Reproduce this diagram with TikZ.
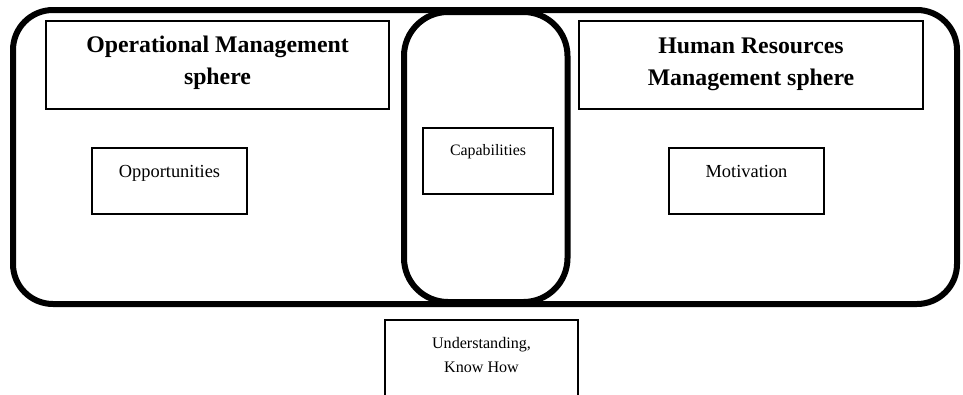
\documentclass[tikz,border=0pt]{standalone}
\usepackage{fontspec}
\setmainfont{Liberation Serif}
\begin{document}
\begin{tikzpicture}[x=1pt,y=-1pt,
  sphere/.style={draw, line width=6pt, rounded corners=40pt, inner sep=0pt},
  oval/.style={draw, line width=6pt, rounded corners=44pt, inner sep=0pt},
  box/.style={draw, line width=1.4pt, inner sep=0pt},
  title/.style={font=\fontsize{23.8}{32}\selectfont\bfseries, align=center, inner sep=0pt},
  lbl/.style={font=\fontsize{18.4}{22}\selectfont, inner sep=0pt},
  smalllbl/.style={font=\fontsize{16.1}{24}\selectfont, align=center, inner sep=0pt}]
\useasboundingbox (0,0) rectangle (963,394);
% outer sphere and capabilities oval
\node[sphere, minimum width=944pt, minimum height=294pt] (outer) at (485,157) {};
\node[oval, minimum width=163.5pt, minimum height=290pt] (capoval) at (485.75,157) {};
% boxes
\node[box, minimum width=343pt, minimum height=88pt] (opbox) at (217.5,65) {};
\node[box, minimum width=344pt, minimum height=88pt] (hrbox) at (751,65) {};
\node[box, minimum width=155pt, minimum height=66pt] (oppbox) at (169.5,181) {};
\node[box, minimum width=155pt, minimum height=66pt] (motbox) at (746.5,181) {};
\node[box, minimum width=130pt, minimum height=66pt] (capbox) at (488,161) {};
\node[box, minimum width=193pt, minimum height=100pt] (undbox) at (481.5,370) {};
% texts (base anchor = baseline of last line)
\node[title, anchor=base] (optitle) at (217.5,84.5) {Operational Management\\sphere};
\node[title, anchor=base] (hrtitle) at (751,85) {Human Resources\\Management sphere};
\node[lbl, anchor=base] (opptext) at (169.5,177) {Opportunities};
\node[lbl, anchor=base] (mottext) at (746.5,177) {Motivation};
\node[font=\fontsize{15.9}{20}\selectfont, inner sep=0pt, anchor=base] (captext) at (488,155) {Capabilities};
\node[smalllbl, anchor=base] (undtext) at (481.5,372) {Understanding,\\Know How};
\end{tikzpicture}
\end{document}
